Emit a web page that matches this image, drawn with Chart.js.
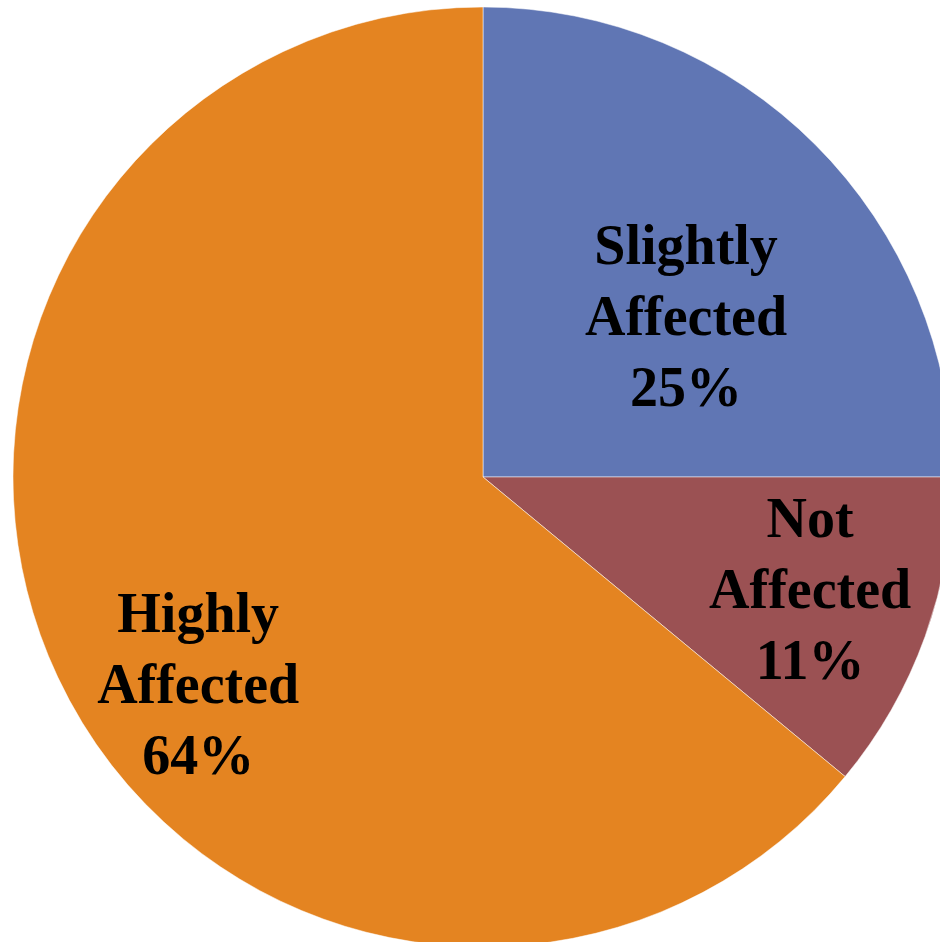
<!DOCTYPE html>
<html>
<head>
<meta charset="utf-8">
<script src="https://cdn.jsdelivr.net/npm/chart.js@4"></script>
<style>
  html, body { margin: 0; padding: 0; background: #fff; overflow: hidden; width: 940px; height: 942px; }
  #wrap { position: absolute; left: 0; top: 0; width: 966px; height: 954px; }
</style>
</head>
<body>
<div id="wrap"><canvas id="pie"></canvas></div>
<script>
const categories = [['Slightly', 'Affected'], ['Not', 'Affected'], ['Highly', 'Affected']];
const shares = [25, 11, 64];
const sliceColors = ['#6076B4', '#9B5153', '#E48421'];
// where each label sits, as a fraction of the radius from the centre
const labelOffsets = [[0.432, -0.302], [0.696, 0.279], [-0.606, 0.481]];

const sliceLabels = {
  id: 'sliceLabels',
  afterDatasetsDraw(chart) {
    const ctx = chart.ctx;
    const meta = chart.getDatasetMeta(0);
    ctx.save();
    ctx.fillStyle = '#000';
    ctx.font = 'bold 56px "Liberation Serif", serif';
    ctx.textAlign = 'center';
    ctx.textBaseline = 'alphabetic';
    meta.data.forEach((arc, i) => {
      const r = arc.outerRadius;
      const x = arc.x + labelOffsets[i][0] * r;
      const y = arc.y + labelOffsets[i][1] * r;
      const lines = [...categories[i], shares[i] + '%'];
      const lh = 71;
      lines.forEach((t, j) => ctx.fillText(t, x, y + (j - 1) * lh));
    });
    ctx.restore();
  }
};

new Chart(document.getElementById('pie').getContext('2d'), {
  type: 'pie',
  data: {
    labels: categories.map(c => c.join(' ')),
    datasets: [{
      data: shares,
      backgroundColor: sliceColors,
      borderColor: 'rgba(255,255,255,0.5)',
      borderWidth: 1,
      radius: 470
    }]
  },
  options: {
    responsive: true,
    maintainAspectRatio: false,
    animation: false,
    plugins: {
      legend: { display: false },
      tooltip: { enabled: false }
    }
  },
  plugins: [sliceLabels]
});
</script>
</body>
</html>
